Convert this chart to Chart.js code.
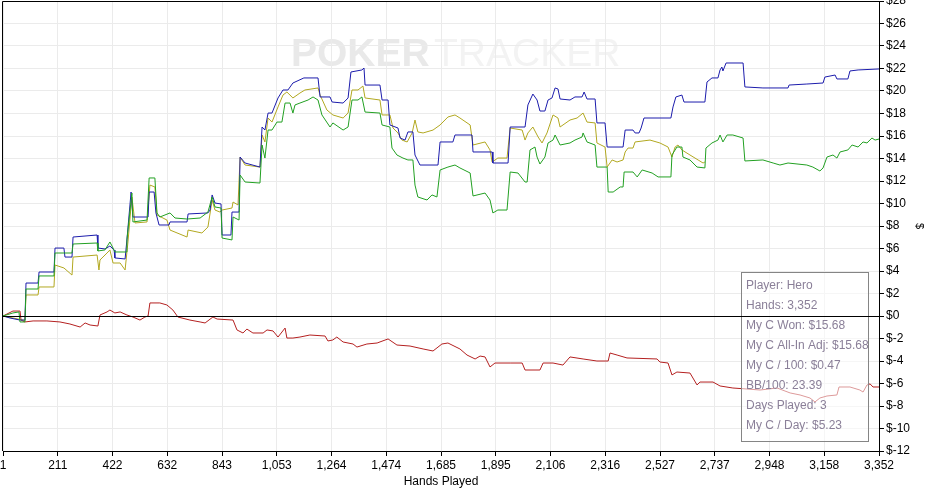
<!DOCTYPE html>
<html>
<head>
<meta charset="utf-8">
<script src="https://cdn.jsdelivr.net/npm/chart.js@4.4.1/dist/chart.umd.min.js"></script>
<style>
  html, body { margin: 0; padding: 0; background: #fff; overflow: hidden; }
  canvas { display: block; }
</style>
</head>
<body>
<canvas id="grafico" width="926" height="490"></canvas>
<script>
// [hand, dollars]
const myCWon = [[1,0],[28,-0.18],[66,-0.36],[85,-0.36],[89,2.93],[135,2.93],[139,3.91],[196,3.91],[200,6.04],[234,6.04],[238,5.24],[265,5.24],[269,7.02],[361,7.2],[364,6.04],[391,5.96],[410,6.22],[426,5.87],[429,5.16],[468,5.07],[475,6.76],[491,11.02],[498,8.8],[556,8.8],[560,11.02],[579,11.02],[586,9.16],[598,8.09],[636,8.09],[640,8.36],[705,8.36],[709,9.07],[785,9.16],[793,9.42],[801,10.76],[812,10.04],[835,9.96],[839,7.2],[873,7.2],[877,9.24],[904,9.24],[908,14.13],[927,13.6],[984,13.24],[992,16.8],[1003,16.53],[1015,18.04],[1030,18.04],[1053,19.38],[1072,20.09],[1091,20.09],[1110,20.71],[1152,21.16],[1206,21.16],[1214,19.47],[1252,19.47],[1260,19.02],[1302,18.93],[1321,19.38],[1332,21.69],[1374,21.87],[1382,22.04],[1386,20.53],[1443,20.53],[1451,19.2],[1474,19.2],[1481,16.98],[1512,16.71],[1520,15.82],[1539,15.64],[1550,16.36],[1569,16.36],[1577,14.31],[1596,13.42],[1665,13.42],[1673,15.47],[1722,15.47],[1730,16.09],[1795,16.09],[1799,14.58],[1872,14.58],[1875,13.6],[1933,13.6],[1941,16.8],[1998,16.8],[2009,18.76],[2028,19.73],[2044,19.2],[2055,18.22],[2074,18.22],[2086,19.2],[2101,19.38],[2113,20.27],[2124,20.18],[2132,19.29],[2170,19.2],[2189,19.47],[2216,19.47],[2224,19.91],[2235,19.29],[2266,19.29],[2273,17.16],[2304,17.16],[2312,15.02],[2373,15.02],[2381,16.53],[2411,16.53],[2419,16.27],[2434,16.27],[2442,16.71],[2453,17.6],[2556,17.6],[2564,18.58],[2575,19.47],[2598,19.64],[2606,19.02],[2686,19.02],[2694,20.8],[2713,21.16],[2736,21.16],[2744,21.87],[2751,22.13],[2755,21.78],[2767,22.49],[2832,22.49],[2839,20.36],[2908,20.27],[3004,20.27],[3008,20.53],[3076,20.62],[3138,20.71],[3145,21.24],[3184,21.42],[3191,21.07],[3233,21.07],[3241,21.78],[3272,21.87],[3352,21.96]];

const myCAllIn = [[1,0],[66,-0.3],[85,-0.4],[89,1.87],[135,1.87],[139,2.58],[196,2.58],[200,4.53],[234,4.27],[265,3.64],[269,5.24],[361,5.42],[368,4.09],[372,4.98],[399,5.6],[410,5.87],[422,4.71],[449,4.71],[468,4.09],[479,6.58],[494,10.58],[506,8.27],[552,8.36],[563,11.64],[582,11.47],[590,8.98],[628,8.53],[640,7.64],[705,7.02],[709,7.64],[762,7.38],[785,7.91],[801,10.31],[812,9.42],[831,9.24],[839,9.42],[877,9.6],[881,10.13],[900,9.87],[908,14.13],[927,13.42],[984,13.24],[992,16.09],[1003,15.47],[1015,17.6],[1030,17.24],[1053,18.58],[1072,19.64],[1087,19.91],[1110,19.38],[1137,19.82],[1156,20.09],[1206,20.27],[1214,19.64],[1240,18.31],[1263,17.87],[1302,17.6],[1321,18.04],[1336,20.09],[1359,20.09],[1378,20.44],[1386,19.38],[1443,19.2],[1451,17.87],[1481,17.87],[1493,16.71],[1512,16.27],[1527,15.64],[1547,15.47],[1566,16.27],[1577,17.42],[1588,16.36],[1608,16.27],[1646,16.53],[1673,16.98],[1703,17.69],[1730,17.87],[1749,17.6],[1788,16.98],[1799,15.2],[1845,15.47],[1864,14.76],[1872,13.69],[1894,14.04],[1929,14.04],[1941,16.71],[1987,16.53],[1998,15.64],[2009,16.27],[2028,16.8],[2048,15.91],[2063,15.38],[2082,16.27],[2105,17.87],[2124,17.6],[2132,16.8],[2170,17.42],[2197,17.6],[2220,18.04],[2235,17.24],[2266,17.16],[2273,15.38],[2304,15.02],[2312,13.24],[2331,13.87],[2350,13.69],[2373,13.87],[2381,14.58],[2392,14.93],[2411,14.93],[2419,15.47],[2476,15.64],[2514,15.38],[2545,15.02],[2560,14.13],[2572,15.02],[2583,15.2],[2598,14.76],[2629,14.31],[2660,13.87],[2679,13.6],[2686,13.69]];

const myCShowdown = [[1,0],[39,0.27],[62,0.36],[66,-0.53],[85,-0.53],[89,2.4],[135,2.4],[139,3.56],[196,3.56],[200,5.6],[265,5.6],[269,6.4],[361,6.49],[364,5.78],[391,5.87],[410,6.58],[422,6.04],[429,5.69],[472,5.69],[475,6.76],[494,10.93],[498,8.36],[552,8.53],[560,12.27],[582,12.27],[590,9.16],[601,8.8],[640,9.16],[659,8.71],[705,8.62],[755,8.71],[785,9.24],[801,10.58],[812,9.69],[835,9.6],[839,6.93],[877,6.76],[881,8.8],[904,8.53],[908,12.53],[927,11.91],[984,11.82],[992,15.2],[1003,14.04],[1015,16.53],[1030,16.53],[1049,17.24],[1068,17.24],[1080,18.93],[1099,18.93],[1110,18.04],[1118,18.76],[1137,18.93],[1168,19.2],[1187,19.47],[1206,19.2],[1221,17.87],[1252,16.8],[1263,17.16],[1302,16.53],[1321,16.8],[1336,19.2],[1359,19.2],[1374,19.47],[1386,18.13],[1443,18.04],[1451,16.98],[1481,16.8],[1489,14.93],[1508,14.31],[1531,14.04],[1550,13.87],[1569,13.87],[1577,11.64],[1588,10.58],[1623,10.31],[1642,10.76],[1661,10.58],[1673,12.98],[1703,13.24],[1730,13.42],[1749,13.16],[1788,12.71],[1799,10.67],[1845,10.93],[1864,10.31],[1875,9.16],[1894,9.42],[1929,9.42],[1941,12.8],[1971,12.71],[1998,11.91],[2006,11.91],[2017,14.76],[2036,15.02],[2044,14.13],[2055,13.51],[2074,14.13],[2086,15.38],[2105,15.64],[2113,16.09],[2132,15.2],[2170,15.38],[2189,15.64],[2216,15.91],[2220,16.27],[2235,15.47],[2266,15.2],[2273,13.24],[2312,13.24],[2316,11.02],[2335,11.02],[2362,11.47],[2373,11.47],[2377,12.8],[2411,12.8],[2427,12.36],[2446,12.98],[2484,12.71],[2507,12.36],[2556,12.36],[2560,14.31],[2579,15.02],[2598,15.02],[2602,14.13],[2629,13.87],[2656,13.24],[2686,13.16],[2690,14.93],[2713,15.38],[2736,15.64],[2744,16.09],[2755,15.47],[2771,16.09],[2793,16.09],[2832,15.82],[2839,13.78],[2908,13.87],[2947,13.6],[2973,13.42],[3004,13.6],[3076,13.42],[3099,13.24],[3126,12.89],[3138,13.16],[3153,14.13],[3176,14.31],[3191,14.04],[3203,14.58],[3233,14.76],[3249,15.2],[3272,15.02],[3291,15.47],[3306,15.38],[3325,15.82],[3337,15.64],[3352,15.73]];

const myCNonShowdown = [[1,0],[39,0.44],[66,0.44],[70,-0.36],[85,-0.53],[116,-0.44],[169,-0.44],[219,-0.53],[257,-0.71],[296,-0.98],[315,-0.62],[334,-0.8],[364,-0.89],[372,0.09],[399,0.36],[410,0.53],[429,0.27],[449,0.36],[475,0.09],[498,-0.09],[525,-0.36],[544,-0.09],[556,0],[563,1.16],[601,1.16],[628,0.98],[651,0.53],[670,-0.09],[716,-0.36],[755,-0.53],[774,-0.62],[804,-0.09],[820,-0.27],[881,-0.36],[896,-1.24],[919,-1.51],[934,-1.16],[957,-1.51],[996,-1.51],[1011,-1.24],[1034,-1.33],[1053,-1.87],[1080,-1.07],[1087,-1.96],[1110,-1.96],[1137,-1.87],[1175,-1.69],[1233,-1.78],[1244,-2.22],[1263,-2.13],[1278,-1.87],[1302,-2.31],[1340,-2.49],[1355,-2.76],[1393,-2.49],[1432,-2.4],[1474,-2.04],[1508,-2.58],[1558,-2.67],[1608,-2.93],[1646,-3.11],[1680,-2.49],[1703,-2.4],[1749,-2.93],[1776,-3.47],[1807,-3.82],[1826,-3.56],[1845,-3.64],[1864,-4.53],[1883,-4.18],[1941,-4.18],[1987,-4.18],[1998,-4.8],[2055,-4.8],[2067,-4.18],[2105,-4.18],[2143,-4.36],[2170,-3.64],[2220,-3.82],[2273,-4],[2316,-4],[2323,-3.29],[2350,-3.47],[2388,-3.73],[2503,-3.82],[2514,-4.09],[2545,-4.18],[2560,-5.24],[2579,-4.98],[2629,-5.07],[2656,-6.13],[2667,-5.87],[2717,-5.87],[2744,-6.22],[2793,-6.4],[2847,-6.49],[2897,-6.58],[2962,-6.4],[3012,-6.84],[3050,-7.02],[3088,-7.29],[3107,-7.64],[3126,-7.29],[3153,-7.11],[3191,-7.02],[3199,-6.31],[3241,-6.31],[3279,-6.58],[3291,-6.76],[3306,-6.13],[3318,-6.04],[3329,-6.31],[3352,-6.31]];

const etiquetasX = [1, 211, 422, 632, 843, 1053, 1264, 1474, 1685, 1895, 2106, 2316, 2527, 2737, 2948, 3158, 3352];
const resumen = ['Player: Hero', 'Hands: 3,352', 'My C Won: $15.68', 'My C All-In Adj: $15.68',
  'My C / 100: $0.47', 'BB/100: 23.39', 'Days Played: 3', 'My C / Day: $5.23'];

const FUENTE = "'Liberation Sans', Arial, sans-serif";
const aPuntos = arr => arr.map(p => ({ x: p[0], y: p[1] }));

// watermark + borders + zero line + stats box
const extras = {
  id: 'extras',
  beforeDraw(chart) {
    const { ctx } = chart;
    ctx.save();
    ctx.textBaseline = 'alphabetic';
    ctx.font = "bold 39px " + FUENTE;
    ctx.fillStyle = '#e9e9e9';
    ctx.fillText('POKER', 291, 66);
    ctx.font = "39px " + FUENTE;
    ctx.fillStyle = '#f3f3f3';
    ctx.fillText('TRACKER', 434, 66);
    ctx.restore();
  },
  afterDatasetsDraw(chart) {
    const { ctx, chartArea: a, scales } = chart;
    ctx.save();
    // stats box
    const bx = 741.5, by = 272.5, bw = 127, bh = 169;
    ctx.fillStyle = 'rgba(255,255,255,0.55)';
    ctx.fillRect(bx, by, bw, bh);
    ctx.strokeStyle = '#858585';
    ctx.lineWidth = 1;
    ctx.strokeRect(bx, by, bw, bh);
    // zero line
    const y0 = Math.round(scales.y.getPixelForValue(0)) + 0.5;
    ctx.strokeStyle = '#000';
    ctx.beginPath();
    ctx.moveTo(a.left, y0);
    ctx.lineTo(a.right, y0);
    ctx.stroke();
    // borders top / left
    ctx.beginPath();
    ctx.moveTo(a.left - 0.5, a.bottom);
    ctx.lineTo(a.left - 0.5, a.top + 0.5);
    ctx.lineTo(a.right, a.top + 0.5);
    ctx.stroke();
    ctx.fillStyle = '#8a7f98';
    ctx.font = "12px " + FUENTE;
    ctx.textBaseline = 'middle';
    resumen.forEach((t, i) => ctx.fillText(t, 746, 286 + i * 20));
    ctx.restore();
  }
};

new Chart(document.getElementById('grafico'), {
  type: 'line',
  data: {
    datasets: [
      { label: 'My C Won (showdown)', data: aPuntos(myCShowdown), borderColor: '#22a022' },
      { label: 'My C Won', data: aPuntos(myCWon), borderColor: '#1c1cac' },
      { label: 'My C All-In Adj', data: aPuntos(myCAllIn), borderColor: '#b2a820' },
      { label: 'My C Won (non-showdown)', data: aPuntos(myCNonShowdown), borderColor: '#b42020' }
    ].map(d => Object.assign(d, { borderWidth: 1, pointRadius: 0, tension: 0, fill: false }))
  },
  plugins: [extras],
  options: {
    responsive: false,
    animation: false,
    devicePixelRatio: 1,
    layout: { padding: { left: 3, top: 1, right: 0, bottom: 0 } },
    plugins: { legend: { display: false }, tooltip: { enabled: false } },
    scales: {
      x: {
        type: 'linear',
        min: 1,
        max: 3352,
        afterBuildTicks: s => {
          s.ticks = etiquetasX.map((l, i) => ({ value: 1 + i * (3352 - 1) / (etiquetasX.length - 1) }));
        },
        afterFit: s => { s.height = 39; s.paddingLeft = 0; s.paddingRight = 0; },
        ticks: {
          autoSkip: false,
          maxRotation: 0,
          color: '#000',
          font: { family: FUENTE, size: 12 },
          padding: 2,
          callback: (v, i) => etiquetasX[i].toLocaleString('en-US')
        },
        grid: { color: '#ebebeb', tickColor: '#000', tickLength: 5 },
        border: { color: '#000' },
        title: { display: true, text: 'Hands Played', color: '#000', font: { family: FUENTE, size: 12 }, padding: { top: 0, bottom: 1 } }
      },
      y: {
        position: 'right',
        min: -12,
        max: 28,
        afterFit: s => { s.width = 47; s.paddingTop = 0; s.paddingBottom = 0; },
        ticks: {
          stepSize: 2,
          autoSkip: false,
          color: '#000',
          font: { family: FUENTE, size: 12 },
          padding: 2,
          callback: v => '$' + v
        },
        grid: { color: '#ebebeb', tickColor: '#000', tickLength: 5 },
        border: { color: '#000' },
        title: { display: true, text: '$', color: '#000', font: { family: FUENTE, size: 11 }, padding: 0 }
      }
    }
  }
});
</script>
</body>
</html>
